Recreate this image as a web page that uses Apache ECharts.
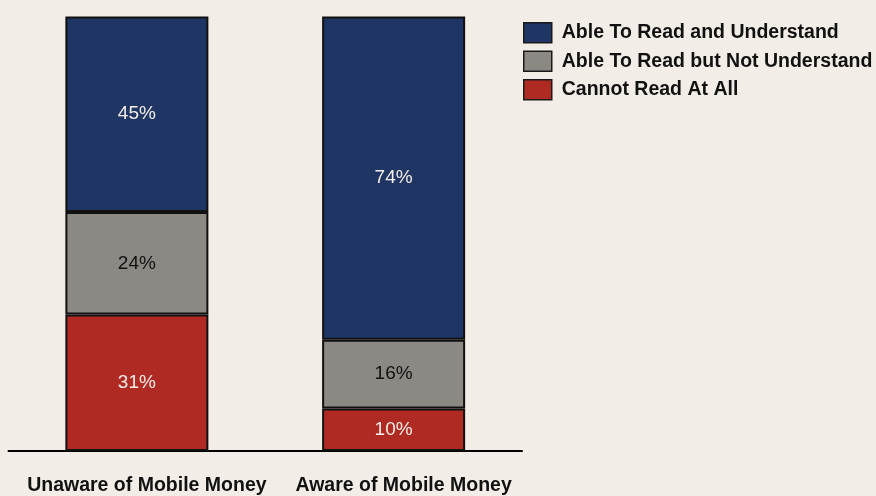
<!DOCTYPE html>
<html>
<head>
<meta charset="utf-8">
<script src="https://cdn.jsdelivr.net/npm/echarts@6/dist/echarts.min.js"></script>
<style>html,body{margin:0;padding:0;background:#f2ede6;}#c{width:876px;height:496px;}</style>
</head>
<body>
<div id="c"></div>
<script>
const categories = ['Unaware of Mobile Money', 'Aware of Mobile Money'];
const cannotRead = [31.4, 9.8];
const readNotUnderstand = [23.6, 15.8];
const readUnderstand = [45.0, 74.4];
const seriesNames = ['Able To Read and Understand', 'Able To Read but Not Understand', 'Cannot Read At All'];

const chart = echarts.init(document.getElementById('c'));
const font = 'Arial, "Liberation Sans", Helvetica, sans-serif';
function mk(name, data, color, labelColor) {
  return {
    name, type: 'bar', stack: 'total', data, barWidth: 143,
    itemStyle: { color, borderColor: '#111', borderWidth: 2 },
    label: { show: true, position: 'inside', formatter: p => Math.round(p.value) + '%', color: labelColor, fontSize: 19, fontFamily: font },
    emphasis: { disabled: true }
  };
}
chart.setOption({
  backgroundColor: '#f2ede6',
  animation: false,
  grid: { left: 8.5, right: 354, top: 16.5, bottom: 42 },
  legend: {
    orient: 'vertical', left: 523, top: 22, padding: 0,
    icon: 'rect',
    itemWidth: 28, itemHeight: 20, itemGap: 7,
    data: seriesNames,
    itemStyle: { borderColor: '#1a1a1a', borderWidth: 1.5 },
    textStyle: { fontSize: 19.5, lineHeight: 18, fontWeight: 'bold', color: '#111', fontFamily: font, padding: [2, 0, 0, 5] },
    selectedMode: false
  },
  xAxis: {
    type: 'category', data: categories,
    axisLine: { lineStyle: { color: '#000', width: 2 } },
    axisTick: { show: false },
    axisLabel: { fontSize: 19.5, fontWeight: 'bold', color: '#111', fontFamily: font, margin: 25, padding: [0, 0, 0, 20], interval: 0 }
  },
  yAxis: { type: 'value', min: 0, max: 100, show: false, splitLine: { show: false } },
  series: [
    mk(seriesNames[2], cannotRead, '#b02a24', '#f2ede6'),
    mk(seriesNames[1], readNotUnderstand, '#8c8984', '#111'),
    mk(seriesNames[0], readUnderstand, '#1f3563', '#f2ede6')
  ]
});
</script>
</body>
</html>
